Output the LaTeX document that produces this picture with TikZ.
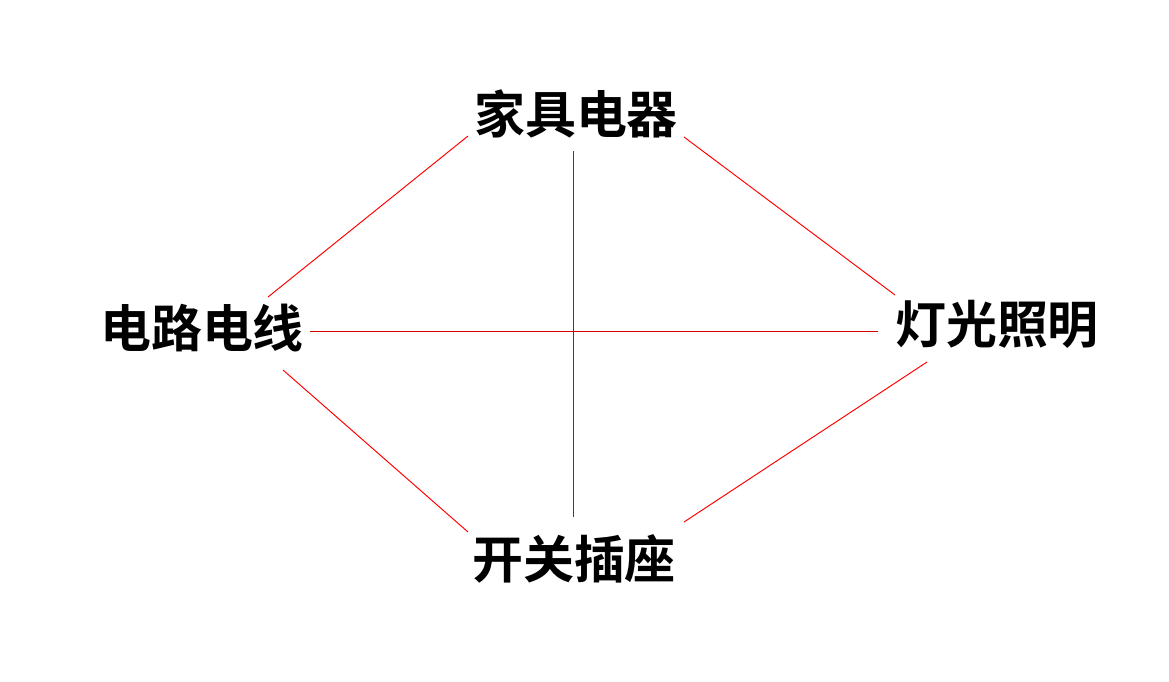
\documentclass[tikz,border=0pt]{standalone}
\usepackage{fontspec}
\newfontfamily\cjk{Noto Sans CJK SC Bold}
\tikzset{
  word/.style={font=\cjk\fontsize{29}{32}\selectfont, inner sep=0pt},
  link/.style={red, line width=0.55pt},
  cross/.style={red!85!black, line width=0.55pt}
}
\begin{document}
\begin{tikzpicture}[x=0.02cm, y=-0.02cm]
    \useasboundingbox (0,0) rectangle (1169,681);
    \node[word] (jiaju) at (576,114) {家具电器};
    \node[word] (dianlu) at (202,328) {电路电线};
    \node[word] (dengguang) at (997,324) {灯光照明};
    \node[word] (kaiguan) at (574,559) {开关插座};
    % ends of the links
    \coordinate (a1) at (268,297);
    \coordinate (a2) at (468,136);
    \coordinate (b1) at (684,137);
    \coordinate (b2) at (895,295);
    \coordinate (c1) at (283,370);
    \coordinate (c2) at (468,532);
    \coordinate (d1) at (927,362);
    \coordinate (d2) at (684,522);
    \coordinate (v1) at (573,151);
    \coordinate (v2) at (573,517);
    \coordinate (h1) at (310,331);
    \coordinate (h2) at (878,331);
    \draw[link] (a1) -- (a2);
    \draw[link] (b1) -- (b2);
    \draw[link] (c1) -- (c2);
    \draw[link] (d1) -- (d2);
    \draw[cross] (v1) -- (v2);
    \draw[cross] (h1) -- (h2);
\end{tikzpicture}
\end{document}
